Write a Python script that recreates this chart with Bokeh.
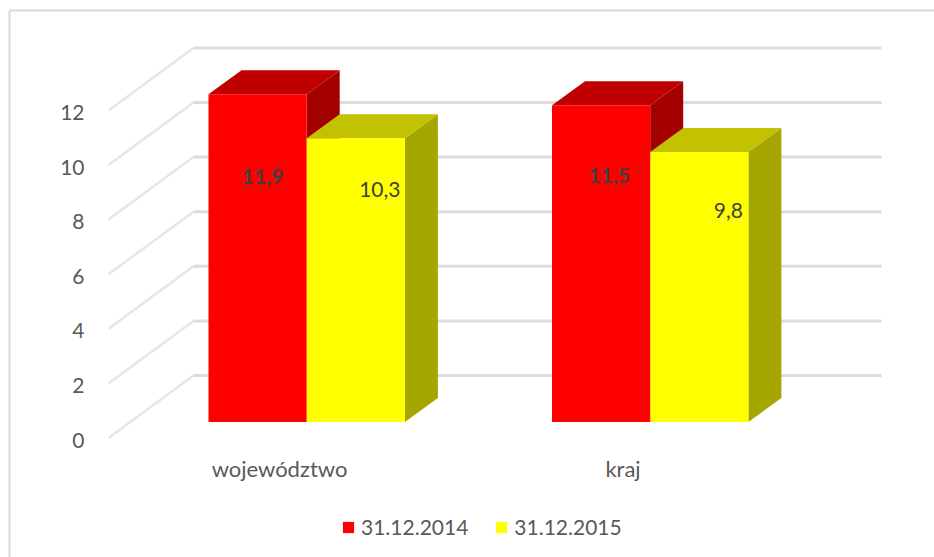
from bokeh.plotting import figure
from bokeh.embed import file_html
from bokeh.resources import INLINE
from bokeh.models import Legend, LegendItem, LinearAxis, FixedTicker, ColumnDataSource, Range1d
from bokeh.core.properties import value

# ---- data ----
categories = ["województwo", "kraj"]
series_names = ["31.12.2014", "31.12.2015"]
values_2014 = [11.9, 11.5]
values_2015 = [10.3, 9.8]
value_labels_2014 = ["11,9", "11,5"]
value_labels_2015 = ["10,3", "9,8"]
y_ticks = [0, 2, 4, 6, 8, 10, 12]

# ---- layout (pixels of the page) ----
W, H = 934, 557
L, T = 0, 0
PX_PER_UNIT = 27.3
AXIS_Y0 = 439.5
WALL_SHIFT = 2 / PX_PER_UNIT  # wall lines start slightly above the tick label centre
CAT_X0, CAT_STEP = 279.0, 343.5
BAR_PX = 98.2
BAR_LEFT_OFFSET = -71.0      # left of group relative to category label centre
FRONT_Y0 = 421.5
FRONT_SCALE = 27.55
DX, DY = 33, 24
WALL_X0, WALL_X1, WALL_X2 = 108, 193, 881
WALL_DY = 62.5
FONT = "Lato"


def xd(px):
    return (px - CAT_X0) / CAT_STEP


def yd(py):
    return (AXIS_Y0 - py) / PX_PER_UNIT


p = figure(width=W - L, height=H - T, output_backend="svg", toolbar_location=None,
           x_range=Range1d(xd(L), xd(W)), y_range=Range1d(yd(H), yd(T)),
           x_axis_location=None, y_axis_location=None,
           min_border=0, min_border_left=0, min_border_right=0,
           min_border_top=0, min_border_bottom=0)
p.grid.visible = False
p.outline_line_color = None
p.background_fill_color = "white"
p.border_fill_color = "white"

# chart frame: only the left and top edges show
p.line([xd(9), xd(9)], [yd(H), yd(10)], line_color="#d9d9d9", line_width=2)
p.line([xd(9), xd(W)], [yd(10), yd(10)], line_color="#d9d9d9", line_width=2)

# walls
for t in y_ticks:
    base = t + WALL_SHIFT
    back = base + WALL_DY / PX_PER_UNIT
    p.line([xd(WALL_X0), xd(WALL_X1)], [base, back], line_color="#e6e6e6", line_width=2.5)
    p.line([xd(WALL_X1), xd(WALL_X2)], [back, back], line_color="#dcdcdc", line_width=3)


def front_y(v):
    return yd(FRONT_Y0 - v * FRONT_SCALE)


def draw_bar(i, slot, v, front, top, side):
    x0 = CAT_X0 + i * CAT_STEP + BAR_LEFT_OFFSET + slot * BAR_PX
    x1 = x0 + BAR_PX
    ddx = DX / CAT_STEP
    ddy = DY / PX_PER_UNIT
    xa, xb = xd(x0), xd(x1)
    y0, y1 = front_y(0), front_y(v)
    p.patch([xb, xb + ddx, xb + ddx, xb], [y0, y0 + ddy, y1 + ddy, y1], fill_color=side, line_color=None)
    p.patch([xa, xa + ddx, xb + ddx, xb], [y1, y1 + ddy, y1 + ddy, y1], fill_color=top, line_color=None)
    return p.quad(left=xa, right=xb, bottom=y0, top=y1, fill_color=front, line_color=None)


r_red = None
r_yel = None
for i in range(len(categories)):
    r_red = draw_bar(i, 0, values_2014[i], "#ff0000", "#c00000", "#a40000")
    r_yel = draw_bar(i, 1, values_2015[i], "#ffff00", "#c2c200", "#a6a600")

# value labels
off_red = [(5, 82), (8, 70)]
off_yel = [(24, 51), (29, 58)]
for slot, vals, labs, offs, style in [(0, values_2014, value_labels_2014, off_red, "bold"),
                                      (1, values_2015, value_labels_2015, off_yel, "normal")]:
    xs, ys, xo, yo = [], [], [], []
    for i, v in enumerate(vals):
        cx = CAT_X0 + i * CAT_STEP + BAR_LEFT_OFFSET + (slot + 0.5) * BAR_PX
        xs.append(xd(cx))
        ys.append(front_y(v))
        xo.append(offs[i][0])
        yo.append(offs[i][1])
    src = ColumnDataSource(dict(x=xs, y=ys, t=labs, xo=xo, yo=yo))
    p.text("x", "y", text="t", x_offset="xo", y_offset="yo", source=src,
           text_font=value(FONT), text_font_size="21px", text_font_style=style,
           text_color="#404040", text_align="center", text_baseline="middle")

# axes drawn inside the frame
ya = LinearAxis(ticker=FixedTicker(ticks=y_ticks), fixed_location=xd(95))
ya.axis_line_color = None
ya.major_tick_line_color = None
ya.minor_tick_line_color = None
ya.major_label_standoff = 5
ya.major_label_text_font = FONT
ya.major_label_text_font_size = "21px"
ya.major_label_text_color = "#595959"
p.add_layout(ya, "left")

xa_ = LinearAxis(ticker=FixedTicker(ticks=list(range(len(categories)))), fixed_location=yd(443),
                 major_label_overrides={i: c for i, c in enumerate(categories)})
xa_.axis_line_color = None
xa_.major_tick_line_color = None
xa_.minor_tick_line_color = None
xa_.major_label_standoff = 5
xa_.major_label_text_font = FONT
xa_.major_label_text_font_size = "22px"
xa_.major_label_text_color = "#595959"
p.add_layout(xa_, "below")

legend = Legend(items=[LegendItem(label=series_names[0], renderers=[r_red]),
                       LegendItem(label=series_names[1], renderers=[r_yel])],
                orientation="horizontal", location=(341 - L, H - 539),
                glyph_width=14, glyph_height=14, label_standoff=6, spacing=26,
                padding=0, margin=0, border_line_color=None, background_fill_alpha=0,
                label_text_font=FONT, label_text_font_size="21px", label_text_color="#595959")
p.add_layout(legend, "center")

open("out.html", "w").write(file_html(p, INLINE))
